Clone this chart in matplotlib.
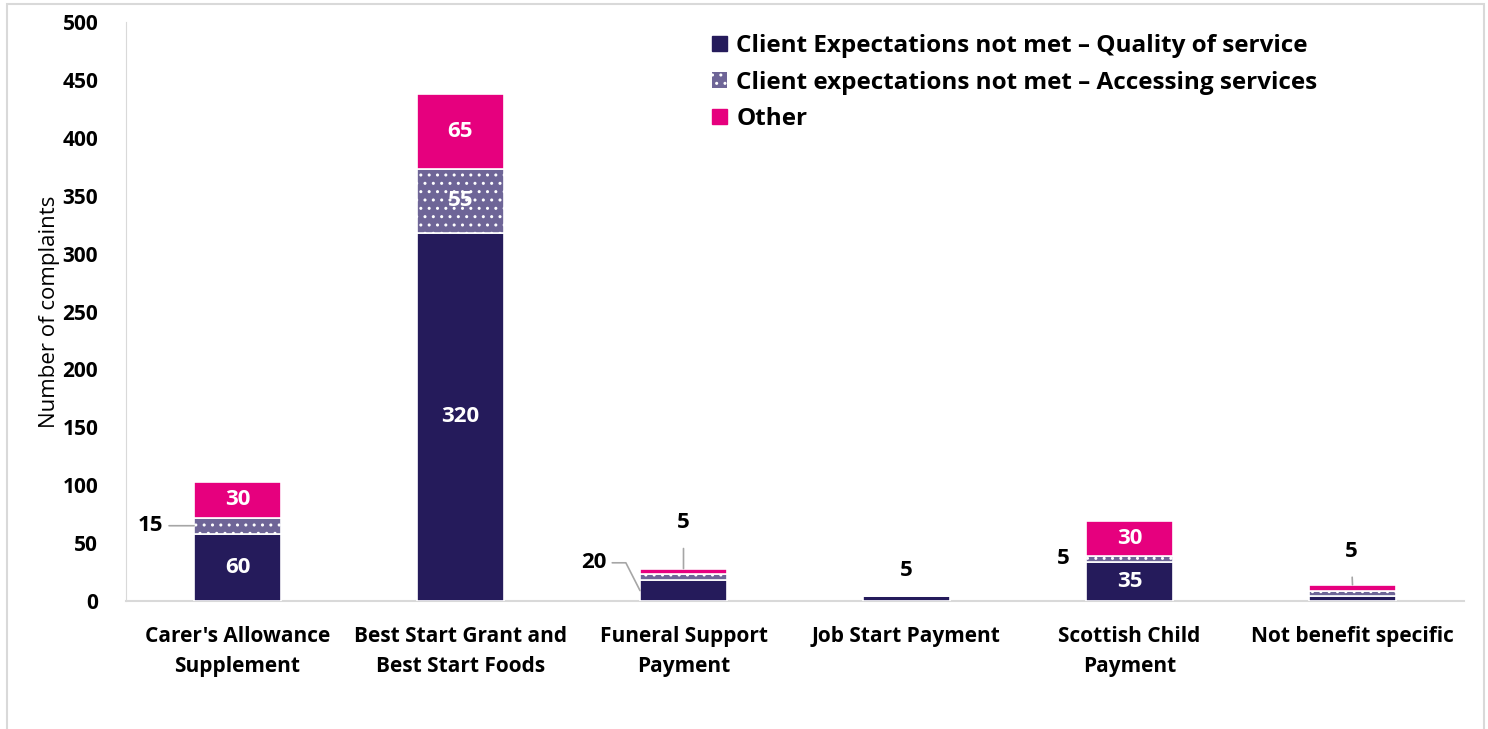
import matplotlib.pyplot as plt
from matplotlib.patches import Rectangle
import numpy as np

# Kategoriler ve seriler
categories = ["Carer's Allowance\nSupplement", "Best Start Grant and\nBest Start Foods",
              "Funeral Support\nPayment", "Job Start Payment",
              "Scottish Child\nPayment", "Not benefit specific"]
quality = [58, 318, 18, 4, 34, 4]
accessing = [14, 55, 5, 0, 5, 5]
other = [31, 65, 5, 0, 30, 5]
series_names = ["Client Expectations not met \u2013 Quality of service",
                "Client expectations not met \u2013 Accessing services",
                "Other"]
yticks = [0, 50, 100, 150, 200, 250, 300, 350, 400, 450, 500]

NAVY = '#251B5B'
PURPLE = '#6E6597'
PINK = '#E6007E'

plt.rcParams['font.family'] = ['Open Sans', 'DejaVu Sans']
plt.rcParams['hatch.linewidth'] = 1.0


def lab(v):
    # etiketler 5'e yuvarlanmış
    return str(int(round(v / 5.0) * 5))


fig = plt.figure(figsize=(14.88, 7.29), dpi=100)
ax = fig.add_axes([126 / 1488, 128 / 729, 1338 / 1488, 579 / 729])

x = np.arange(len(categories))
w = 0.39
q = np.array(quality, float)
a = np.array(accessing, float)
o = np.array(other, float)

ax.bar(x, q, w, color=NAVY, edgecolor='white', linewidth=1.2, zorder=3)
ax.bar(x, a, w, bottom=q, color=PURPLE, edgecolor='white', linewidth=1.2,
       hatch='..', zorder=3)
ax.bar(x, o, w, bottom=q + a, color=PINK, edgecolor='white', linewidth=1.2, zorder=3)

ax.set_xlim(-0.5, len(categories) - 0.5)
ax.set_ylim(0, 500)
ax.set_yticks(yticks)
ax.set_xticks(x)
ax.set_xticklabels(categories, fontsize=15, fontweight='bold', linespacing=1.55)
ax.tick_params(axis='y', labelsize=15, length=0, pad=20)
ax.tick_params(axis='x', length=0, pad=18)
for t in ax.get_yticklabels():
    t.set_fontweight('bold')
ax.set_ylabel('Number of complaints', fontsize=16, labelpad=2)

for s in ['top', 'right']:
    ax.spines[s].set_visible(False)
ax.spines['left'].set_color('#D9D9D9')
ax.spines['bottom'].set_color('#D9D9D9')
ax.spines['bottom'].set_linewidth(1.5)

# Beyaz etiketler (büyük segmentler)
white_kw = dict(color='white', fontsize=16, fontweight='bold', ha='center', va='center', zorder=5)
for i in [0, 1, 4]:
    ax.text(x[i], q[i] / 2, lab(q[i]), **white_kw)
    ax.text(x[i], q[i] + a[i] + o[i] / 2, lab(o[i]), **white_kw)
ax.text(x[1], q[1] + a[1] / 2, lab(a[1]), **white_kw)

# Dış etiketler (küçük segmentler)
black_kw = dict(color='black', fontsize=16, fontweight='bold', zorder=5)
line_kw = dict(arrowstyle='-', color='#A6A6A6', lw=1.2, shrinkA=2, shrinkB=0)

ax.annotate(lab(a[0]), xy=(x[0] - w / 2, q[0] + a[0] / 2), xytext=(-22, 0),
            textcoords='offset points', ha='right', va='center',
            arrowprops=line_kw, **black_kw)
ax.annotate(lab(q[2]), xy=(x[2] - w / 2, q[2] / 2), xytext=(-24, 20),
            textcoords='offset points', ha='right', va='center',
            arrowprops=dict(line_kw, connectionstyle='angle,angleA=0,angleB=-63,rad=0'),
            **black_kw)
ax.annotate(lab(o[2]), xy=(x[2], q[2] + a[2] + o[2]), xytext=(0, 33),
            textcoords='offset points', ha='center', va='center',
            arrowprops=dict(line_kw, shrinkA=9), **black_kw)
ax.annotate(lab(q[3]), xy=(x[3], q[3]), xytext=(0, 11),
            textcoords='offset points', ha='center', va='bottom', **black_kw)
ax.annotate(lab(a[4]), xy=(x[4] - w / 2, q[4] + a[4] / 2), xytext=(-12, 0),
            textcoords='offset points', ha='right', va='center', **black_kw)
ax.annotate(lab(o[5]), xy=(x[5], q[5] + a[5] + o[5]), xytext=(-1, 24),
            textcoords='offset points', ha='center', va='center',
            arrowprops=dict(line_kw, shrinkA=9), **black_kw)

# Lejant
handles = [Rectangle((0, 0), 1, 1, color=NAVY),
           Rectangle((0, 0), 1, 1, facecolor=PURPLE, edgecolor='white', hatch='..', lw=0),
           Rectangle((0, 0), 1, 1, color=PINK)]
leg = ax.legend(handles, series_names, loc='upper left',
                bbox_to_anchor=(712 / 1488, 1 - 34 / 729), bbox_transform=fig.transFigure,
                frameon=False, handlelength=0.6, handleheight=0.6, handletextpad=0.4,
                labelspacing=0.52, borderaxespad=0, borderpad=0,
                prop={'size': 17.5, 'weight': 'bold'})

# Grafik alanı çerçevesi
fig.add_artist(Rectangle((7 / 1488, -0.02), 1477 / 1488, 1.02 - 4 / 729,
                         transform=fig.transFigure, fill=False,
                         edgecolor='#D9D9D9', lw=1.5))

plt.savefig('out.png', dpi=100)
